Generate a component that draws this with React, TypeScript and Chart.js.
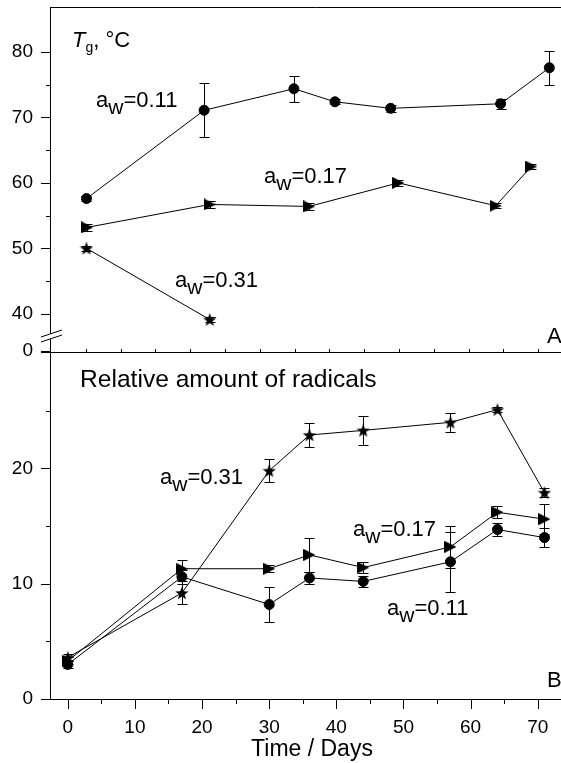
import React, { useEffect, useRef } from 'react';
import { Chart, registerables } from 'chart.js';

Chart.register(...registerables);

const FONT = "'Liberation Sans', Arial, Helvetica, sans-serif";

// ---------- Panel A: Tg (°C) ----------
const TOP_X_011 = [0.1, 17.0, 29.9, 35.8, 43.8, 59.6, 66.6];
const TOP_TG_011 = [57.6, 71.1, 74.4, 72.4, 71.4, 72.1, 77.6];
const TOP_ERR_011 = [0.4, 4.1, 2.0, 0.4, 0.5, 0.8, 2.6];

const TOP_X_017 = [0.2, 17.8, 32.1, 44.9, 58.9, 64.0];
const TOP_TG_017 = [53.2, 56.7, 56.4, 60.0, 56.5, 62.5];
const TOP_ERR_017 = [0.5, 0.6, 0.5, 0.4, 0.4, 0.4];

const TOP_X_031 = [0.1, 17.8];
const TOP_TG_031 = [50.0, 39.1];
const TOP_ERR_031 = [0.4, 0.4];

const TOP_Y_TICKS = [34.3, 40, 50, 60, 70, 80];
const TOP_Y_MINOR = [45, 55, 65, 75];
const TOP_X_TICKS = [0, 5, 10, 15, 20, 25, 30, 35, 40, 45, 50, 55, 60, 65];

// ---------- Panel B: relative amount of radicals ----------
const DAYS = [0, 17, 30, 36, 44, 57, 64, 71];
const RAD_011 = [3.0, 10.6, 8.2, 10.5, 10.2, 11.9, 14.7, 14.0];
const ERR_011 = [0.3, 0.6, 1.5, 0.5, 0.5, 2.6, 0.6, 0.8];
const RAD_017 = [3.3, 11.3, 11.3, 12.5, 11.4, 13.2, 16.2, 15.6];
const ERR_017 = [0.3, 0.8, 0.3, 1.5, 0.5, 1.8, 0.5, 1.3];
const RAD_031 = [3.6, 9.2, 19.8, 22.9, 23.3, 24.0, 25.1, 17.9];
const ERR_031 = [0.3, 1.0, 1.0, 1.0, 1.25, 0.85, 0.2, 0.4];

const BOT_Y_TICKS = [0, 10, 20];
const BOT_Y_MINOR = [5, 15, 25];
const BOT_X_TICKS = [0, 10, 20, 30, 40, 50, 60, 70];
const BOT_X_MINOR = [5, 15, 25, 35, 45, 55, 65, 75];

// ---------- layout ----------
const W = 600;
const H = 763;
const LEFT = 51;
const RIGHT = 573;
const TOP = 7;
const MID = 352;
const BOTTOM = 699;

function makeTriangle(): HTMLCanvasElement {
  const c = document.createElement('canvas');
  c.width = 12;
  c.height = 12;
  const g = c.getContext('2d')!;
  g.fillStyle = '#000';
  g.beginPath();
  g.moveTo(0, 0);
  g.lineTo(12, 6);
  g.lineTo(0, 12);
  g.closePath();
  g.fill();
  return c;
}

function makeStar(): HTMLCanvasElement {
  const c = document.createElement('canvas');
  c.width = 14;
  c.height = 14;
  const g = c.getContext('2d')!;
  g.fillStyle = '#000';
  g.beginPath();
  for (let i = 0; i < 10; i++) {
    const r = i % 2 === 0 ? 7 : 2.9;
    const a = -Math.PI / 2 + (i * Math.PI) / 5;
    const px = 7 + r * Math.cos(a);
    const py = 7.6 + r * Math.sin(a);
    if (i === 0) g.moveTo(px, py);
    else g.lineTo(px, py);
  }
  g.closePath();
  g.fill();
  return c;
}

function pts(xs: number[], ys: number[]) {
  return xs.map((x, i) => ({ x, y: ys[i] }));
}

function series(data: { x: number; y: number }[], style: any) {
  const base: any = {
    data,
    showLine: true,
    borderColor: '#000',
    borderWidth: 1,
    tension: 0,
    pointBackgroundColor: '#000',
    pointBorderColor: '#000',
    pointBorderWidth: 1,
    pointHoverRadius: 5,
  };
  if (style === 'circle') {
    base.pointStyle = 'circle';
    base.pointRadius = 5;
  } else {
    base.pointStyle = style;
    base.pointRadius = 6;
  }
  return base;
}

function errorBars(errs: number[][]) {
  return {
    id: 'errorBars',
    beforeDatasetsDraw(chart: any) {
      const ctx = chart.ctx as CanvasRenderingContext2D;
      const xs = chart.scales.x;
      const ys = chart.scales.y;
      ctx.save();
      ctx.strokeStyle = '#000';
      ctx.lineWidth = 1;
      chart.data.datasets.forEach((ds: any, di: number) => {
        const e = errs[di];
        ds.data.forEach((p: any, i: number) => {
          const px = Math.round(xs.getPixelForValue(p.x)) + 0.5;
          const y1 = Math.round(ys.getPixelForValue(p.y + e[i])) + 0.5;
          const y2 = Math.round(ys.getPixelForValue(p.y - e[i])) + 0.5;
          ctx.beginPath();
          ctx.moveTo(px, y1);
          ctx.lineTo(px, y2);
          ctx.moveTo(px - 5, y1);
          ctx.lineTo(px + 5, y1);
          ctx.moveTo(px - 5, y2);
          ctx.lineTo(px + 5, y2);
          ctx.stroke();
        });
      });
      ctx.restore();
    },
  };
}

function drawAw(ctx: CanvasRenderingContext2D, x: number, y: number, val: string, f: number) {
  ctx.font = `${f}px ${FONT}`;
  ctx.fillText('a', x, y);
  let cx = x + ctx.measureText('a').width;
  const fs = Math.round(f * 0.95);
  ctx.font = `${fs}px ${FONT}`;
  ctx.fillText('w', cx, y + f * 0.32);
  cx += ctx.measureText('w').width;
  ctx.font = `${f}px ${FONT}`;
  ctx.fillText('=' + val, cx, y);
}

function line(ctx: CanvasRenderingContext2D, x1: number, y1: number, x2: number, y2: number) {
  ctx.beginPath();
  ctx.moveTo(x1, y1);
  ctx.lineTo(x2, y2);
  ctx.stroke();
}

const topDecor = {
  id: 'topDecor',
  afterDraw(chart: any) {
    const ctx = chart.ctx as CanvasRenderingContext2D;
    const ys = chart.scales.y;
    const xs = chart.scales.x;
    ctx.save();
    ctx.strokeStyle = '#000';
    ctx.fillStyle = '#000';
    ctx.lineWidth = 1;
    // frame
    line(ctx, LEFT - 0.5, TOP + 0.5, RIGHT + 10, TOP + 0.5);
    line(ctx, LEFT - 0.5, TOP, LEFT - 0.5, MID + 1);
    line(ctx, LEFT - 10, MID + 0.5, RIGHT + 10, MID + 0.5);
    // y ticks
    TOP_Y_TICKS.forEach((v) => {
      const y = Math.round(ys.getPixelForValue(v)) + 0.5;
      line(ctx, LEFT - 10, y, LEFT, y);
    });
    TOP_Y_MINOR.forEach((v) => {
      const y = Math.round(ys.getPixelForValue(v)) + 0.5;
      line(ctx, LEFT - 5, y, LEFT, y);
    });
    // x ticks (inward, on the shared line)
    TOP_X_TICKS.forEach((v) => {
      const x = Math.round(xs.getPixelForValue(v)) + 0.5;
      line(ctx, x, MID, x, MID - 3);
    });
    // axis break
    ctx.fillStyle = '#fff';
    ctx.beginPath();
    ctx.moveTo(41, 337);
    ctx.lineTo(62, 330);
    ctx.lineTo(62, 335);
    ctx.lineTo(41, 342);
    ctx.closePath();
    ctx.fill();
    ctx.fillStyle = '#000';
    line(ctx, 41, 337, 62, 330);
    line(ctx, 41, 342, 62, 335);

    // texts
    ctx.textBaseline = 'alphabetic';
    ctx.textAlign = 'left';
    ctx.font = `italic 22px ${FONT}`;
    ctx.fillText('T', 72, 47);
    let cx = 72 + ctx.measureText('T').width;
    ctx.font = `14px ${FONT}`;
    ctx.fillText('g', cx, 52);
    cx += ctx.measureText('g').width;
    ctx.font = `22px ${FONT}`;
    ctx.fillText(', \u00B0C', cx, 47);

    drawAw(ctx, 96, 107, '0.11', 22);
    drawAw(ctx, 264, 183, '0.17', 22);
    drawAw(ctx, 175, 287, '0.31', 22);

    ctx.font = `22px ${FONT}`;
    ctx.fillText('A', 547, 343);
    ctx.restore();
  },
};

const botDecor = {
  id: 'botDecor',
  afterDraw(chart: any) {
    const ctx = chart.ctx as CanvasRenderingContext2D;
    const ys = chart.scales.y;
    const xs = chart.scales.x;
    ctx.save();
    ctx.strokeStyle = '#000';
    ctx.fillStyle = '#000';
    ctx.lineWidth = 1;
    line(ctx, LEFT - 0.5, MID, LEFT - 0.5, BOTTOM + 1);
    line(ctx, LEFT - 10, BOTTOM + 0.5, RIGHT + 10, BOTTOM + 0.5);
    BOT_Y_TICKS.forEach((v) => {
      const y = Math.round(ys.getPixelForValue(v)) + 0.5;
      line(ctx, LEFT - 10, y, LEFT, y);
    });
    BOT_Y_MINOR.forEach((v) => {
      const y = Math.round(ys.getPixelForValue(v)) + 0.5;
      line(ctx, LEFT - 5, y, LEFT, y);
    });
    BOT_X_TICKS.forEach((v) => {
      const x = Math.round(xs.getPixelForValue(v)) + 0.5;
      line(ctx, x, BOTTOM, x, BOTTOM + 10);
    });
    BOT_X_MINOR.forEach((v) => {
      const x = Math.round(xs.getPixelForValue(v)) + 0.5;
      line(ctx, x, BOTTOM, x, BOTTOM + 5);
    });

    ctx.textBaseline = 'alphabetic';
    ctx.textAlign = 'left';
    ctx.font = `24.6px ${FONT}`;
    ctx.fillText('Relative amount of radicals', 80, 387);

    drawAw(ctx, 160, 484, '0.31', 22);
    drawAw(ctx, 353, 536, '0.17', 22);
    drawAw(ctx, 387, 615, '0.11', 22);

    ctx.font = `22px ${FONT}`;
    ctx.fillText('B', 547, 687);
    ctx.restore();
  },
};

const hiddenGrid = {
  display: true,
  drawOnChartArea: false,
  drawTicks: true,
  tickLength: 10,
  color: 'rgba(0,0,0,0)',
};

export default function App() {
  const topRef = useRef<HTMLCanvasElement>(null);
  const botRef = useRef<HTMLCanvasElement>(null);

  useEffect(() => {
    const tri = makeTriangle();
    const star = makeStar();

    const topChart = new Chart(topRef.current!, {
      type: 'scatter',
      data: {
        datasets: [
          series(pts(TOP_X_011, TOP_TG_011), 'circle'),
          series(pts(TOP_X_017, TOP_TG_017), tri),
          series(pts(TOP_X_031, TOP_TG_031), star),
        ],
      },
      options: {
        animation: false,
        responsive: false,
        devicePixelRatio: 1,
        events: [],
        layout: { padding: { top: TOP, bottom: H - MID, left: 0, right: W - RIGHT } },
        plugins: { legend: { display: false }, tooltip: { enabled: false } },
        scales: {
          x: { type: 'linear', min: -5, max: 70, display: false },
          y: {
            type: 'linear',
            min: 34.14,
            max: 85,
            afterFit: (s: any) => {
              s.width = LEFT;
            },
            afterBuildTicks: (s: any) => {
              s.ticks = TOP_Y_TICKS.map((v) => ({ value: v }));
            },
            ticks: {
              callback: (v: any) => (Number(v) < 35 ? '0' : String(v)),
              font: { family: FONT, size: 19 },
              color: '#000',
              padding: 8,
            },
            grid: hiddenGrid,
            border: { display: false },
          },
        },
      } as any,
      plugins: [errorBars([TOP_ERR_011, TOP_ERR_017, TOP_ERR_031]), topDecor],
    });

    const botChart = new Chart(botRef.current!, {
      type: 'scatter',
      data: {
        datasets: [
          series(pts(DAYS, RAD_011), 'circle'),
          series(pts(DAYS, RAD_017), tri),
          series(pts(DAYS, RAD_031), star),
        ],
      },
      options: {
        animation: false,
        responsive: false,
        devicePixelRatio: 1,
        events: [],
        layout: { padding: { top: MID, bottom: 0, left: 0, right: W - RIGHT } },
        plugins: { legend: { display: false }, tooltip: { enabled: false } },
        scales: {
          x: {
            type: 'linear',
            min: -2.5,
            max: 75.25,
            afterFit: (s: any) => {
              s.height = H - BOTTOM;
            },
            afterBuildTicks: (s: any) => {
              s.ticks = BOT_X_TICKS.map((v) => ({ value: v }));
            },
            ticks: {
              font: { family: FONT, size: 19 },
              color: '#000',
              padding: 7,
              maxRotation: 0,
            },
            title: {
              display: true,
              text: 'Time / Days',
              font: { family: FONT, size: 23 },
              color: '#000',
              padding: { top: 0, bottom: 0 },
            },
            grid: hiddenGrid,
            border: { display: false },
          },
          y: {
            type: 'linear',
            min: 0,
            max: 30.1,
            afterFit: (s: any) => {
              s.width = LEFT;
            },
            afterBuildTicks: (s: any) => {
              s.ticks = BOT_Y_TICKS.map((v) => ({ value: v }));
            },
            ticks: {
              font: { family: FONT, size: 19 },
              color: '#000',
              padding: 8,
            },
            grid: hiddenGrid,
            border: { display: false },
          },
        },
      } as any,
      plugins: [errorBars([ERR_011, ERR_017, ERR_031]), botDecor],
    });

    return () => {
      topChart.destroy();
      botChart.destroy();
    };
  }, []);

  const canvasStyle: React.CSSProperties = {
    position: 'absolute',
    left: 0,
    top: 0,
    width: W,
    height: H,
  };

  return (
    <div
      style={{
        position: 'fixed',
        left: 0,
        top: 0,
        width: 561,
        height: 763,
        overflow: 'hidden',
        background: '#fff',
      }}
    >
      <canvas ref={topRef} width={W} height={H} style={canvasStyle} />
      <canvas ref={botRef} width={W} height={H} style={canvasStyle} />
    </div>
  );
}
